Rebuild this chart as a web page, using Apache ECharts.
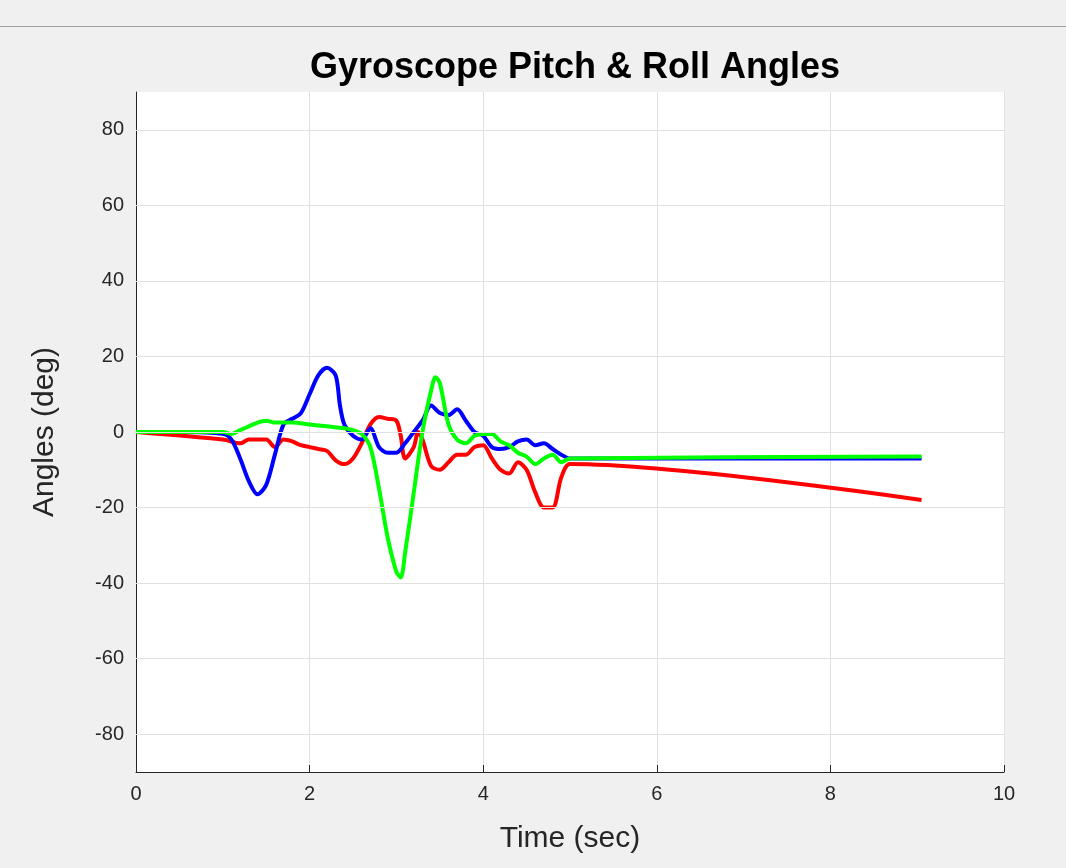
<!DOCTYPE html>
<html>
<head>
<meta charset="utf-8">
<script src="https://cdn.jsdelivr.net/npm/echarts@6/dist/echarts.min.js"></script>
<style>
  html, body { margin: 0; padding: 0; background: #f0f0f0; }
  #bar { height: 26px; border-bottom: 1px solid #a0a0a0; background: #f0f0f0; }
  #main { width: 1066px; height: 841px; }
</style>
</head>
<body>
<div id="bar"></div>
<div id="main"></div>
<script>
// time (sec) and angles (deg)
var blueT = [0, 0.5, 1.0, 1.1, 1.2, 1.3, 1.4, 1.5, 1.6, 1.7, 1.8, 1.9, 2.0, 2.1, 2.2, 2.3, 2.35, 2.4, 2.5, 2.6, 2.7, 2.8, 2.9, 3.0, 3.1, 3.2, 3.3, 3.4, 3.5, 3.6, 3.7, 3.8, 3.9, 4.0, 4.1, 4.2, 4.3, 4.4, 4.5, 4.6, 4.7, 4.8, 4.9, 5.0, 9.05];
var blueV = [0, 0, -0.5, -2, -7, -13, -16.5, -14, -6, 2, 3.5, 5, 10, 15, 17, 15, 7, 2, -1, -2, 1, -4, -5.5, -5.5, -3, 0, 3, 7, 5, 4.5, 6, 3, 0, -1, -4, -4.5, -4, -2.5, -2, -3.5, -3, -4.5, -6, -7, -7];
var greenT = [0, 0.5, 1.0, 1.1, 1.2, 1.3, 1.4, 1.5, 1.6, 1.8, 2.0, 2.2, 2.4, 2.5, 2.6, 2.7, 2.8, 2.9, 3.0, 3.05, 3.1, 3.2, 3.3, 3.4, 3.45, 3.5, 3.6, 3.7, 3.8, 3.9, 4.0, 4.1, 4.2, 4.3, 4.4, 4.5, 4.6, 4.7, 4.8, 4.9, 5.0, 9.05];
var greenV = [0, 0, 0, -0.5, 0.5, 1.5, 2.5, 3, 2.5, 2.5, 2, 1.5, 1, 0.5, -0.5, -4, -15, -28, -37, -38.5, -32, -16, 0, 11, 14.5, 13, 2, -2, -3, -1, -0.5, -0.5, -2.5, -3.5, -5.5, -6.5, -8.5, -7, -6, -8, -7, -6.5];
var redT = [0, 1.0, 1.2, 1.3, 1.5, 1.6, 1.7, 1.8, 1.9, 2.0, 2.1, 2.2, 2.3, 2.4, 2.5, 2.6, 2.7, 2.8, 2.9, 3.0, 3.05, 3.1, 3.2, 3.25, 3.3, 3.4, 3.5, 3.6, 3.7, 3.8, 3.9, 4.0, 4.1, 4.2, 4.3, 4.4, 4.5, 4.6, 4.7, 4.8, 4.9, 5.0, 9.05];
var redV = [0, -2, -3, -2, -2, -4, -2, -2.5, -3.5, -4, -4.5, -5, -7.5, -8.5, -7, -3, 2, 4, 3.5, 3, -1, -7, -4, 0, -2, -9, -10, -8, -6, -6, -4, -3.5, -7, -10, -11, -8, -10, -16, -20, -20, -12, -8.5, -18];
var yTicks = [-80, -60, -40, -20, 0, 20, 40, 60, 80];

function pairs(t, v) { return t.map(function (x, i) { return [x, v[i]]; }); }
function line(t, v, color) {
  return { type: "line", data: pairs(t, v), showSymbol: false, smooth: 0.3, z: 3,
    lineStyle: { color: color, width: 4 }, itemStyle: { color: color } };
}

var gridLines = {
  type: "line", data: [], z: 1,
  markLine: {
    silent: true, symbol: "none", label: { show: false },
    lineStyle: { color: "#e0e0e0", type: "solid", width: 1 },
    data: yTicks.map(function (v) { return { yAxis: v }; })
  }
};

var chart = echarts.init(document.getElementById("main"));
chart.setOption({
  backgroundColor: "#f0f0f0",
  animation: false,
  title: {
    text: "Gyroscope Pitch & Roll Angles", left: 570, top: 18, textAlign: "center",
    textStyle: { fontFamily: "Liberation Sans", fontSize: 36, fontWeight: "bold", color: "#000" }
  },
  grid: { left: 136, right: 62, top: 65, bottom: 96, show: true, backgroundColor: "#fff", borderWidth: 0 },
  xAxis: {
    type: "value", min: 0, max: 10, interval: 2,
    name: "Time (sec)", nameLocation: "middle", nameGap: 52,
    nameTextStyle: { fontFamily: "Liberation Sans", fontSize: 30, color: "#262626" },
    axisLine: { onZero: false, lineStyle: { color: "#262626" } },
    axisTick: { inside: true, length: 7, lineStyle: { color: "#262626" } },
    axisLabel: { fontFamily: "Liberation Sans", fontSize: 20, color: "#262626", margin: 12 },
    splitLine: { lineStyle: { color: "#e0e0e0" } }
  },
  yAxis: {
    type: "value", min: -90, max: 90, interval: 10,
    name: "Angles (deg)", nameLocation: "middle", nameGap: 76,
    nameTextStyle: { fontFamily: "Liberation Sans", fontSize: 30, color: "#262626" },
    axisLine: { show: true, lineStyle: { color: "#262626" } },
    axisTick: { show: false },
    axisLabel: { fontFamily: "Liberation Sans", fontSize: 20, color: "#262626", margin: 12,
      formatter: function (v) { return yTicks.indexOf(v) >= 0 ? String(v) : ""; } },
    splitLine: { show: false }
  },
  series: [
    gridLines,
    line(redT, redV, "#ff0000"),
    line(blueT, blueV, "#0000ff"),
    line(greenT, greenV, "#00ff00")
  ]
});
</script>
</body>
</html>
